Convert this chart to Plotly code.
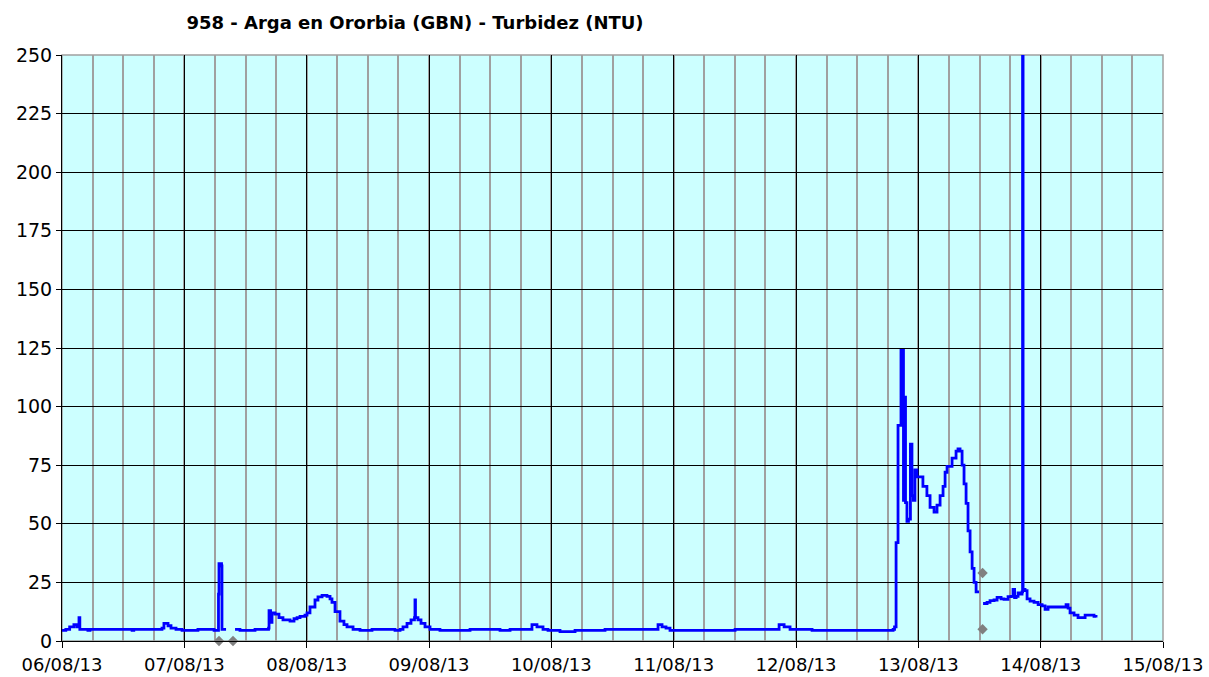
import plotly.graph_objects as go

# Turbidity series (NTU); None marks gaps in the record
times = [
    "2013-08-06 00:00", "2013-08-06 00:45", "2013-08-06 01:30", "2013-08-06 02:20", "2013-08-06 02:55",
    "2013-08-06 03:20", "2013-08-06 03:30", "2013-08-06 04:40", "2013-08-06 05:05", "2013-08-06 05:30",
    "2013-08-06 13:20", "2013-08-06 13:45", "2013-08-06 14:05", "2013-08-06 19:37", "2013-08-06 20:00",
    "2013-08-06 20:48", "2013-08-06 21:23", "2013-08-06 22:22", "2013-08-06 23:33", "2013-08-07 02:06",
    "2013-08-07 02:40", "2013-08-07 05:26", "2013-08-07 05:50", "2013-08-07 06:25", "2013-08-07 06:42",
    "2013-08-07 06:48", "2013-08-07 07:18", "2013-08-07 07:23", "2013-08-07 08:11", "2013-08-07 09:00",
    "2013-08-07 09:57", "2013-08-07 10:55", "2013-08-07 12:53", "2013-08-07 13:52", "2013-08-07 16:31",
    "2013-08-07 16:37", "2013-08-07 16:55", "2013-08-07 17:12", "2013-08-07 17:47", "2013-08-07 18:34",
    "2013-08-07 19:21", "2013-08-07 20:44", "2013-08-07 21:31", "2013-08-07 22:07", "2013-08-07 22:42",
    "2013-08-07 23:40", "2013-08-08 00:04", "2013-08-08 00:39", "2013-08-08 01:38", "2013-08-08 02:13",
    "2013-08-08 03:01", "2013-08-08 03:59", "2013-08-08 04:35", "2013-08-08 04:58", "2013-08-08 05:34",
    "2013-08-08 06:32", "2013-08-08 07:19", "2013-08-08 07:55", "2013-08-08 09:06", "2013-08-08 10:28",
    "2013-08-08 12:49", "2013-08-08 15:22", "2013-08-08 17:20", "2013-08-08 18:19", "2013-08-08 18:54",
    "2013-08-08 19:41", "2013-08-08 20:28", "2013-08-08 21:09", "2013-08-08 21:15", "2013-08-08 21:21",
    "2013-08-08 21:50", "2013-08-08 22:26", "2013-08-08 23:13", "2013-08-09 00:12", "2013-08-09 02:09",
    "2013-08-09 08:03", "2013-08-09 13:56", "2013-08-09 15:54", "2013-08-09 19:49", "2013-08-09 20:12",
    "2013-08-09 21:11", "2013-08-09 22:22", "2013-08-09 23:21", "2013-08-10 01:42", "2013-08-10 04:39",
    "2013-08-10 07:35", "2013-08-10 10:32", "2013-08-10 13:05", "2013-08-10 20:56", "2013-08-10 21:43",
    "2013-08-10 22:30", "2013-08-10 23:17", "2013-08-11 03:13", "2013-08-11 09:06", "2013-08-11 12:03",
    "2013-08-11 19:53", "2013-08-11 20:41", "2013-08-11 21:40", "2013-08-11 22:50", "2013-08-12 00:48",
    "2013-08-12 03:09", "2013-08-12 08:38", "2013-08-12 12:34", "2013-08-12 19:03", "2013-08-12 19:20",
    "2013-08-12 19:38", "2013-08-12 20:01", "2013-08-12 20:24", "2013-08-12 20:36", "2013-08-12 20:53",
    "2013-08-12 21:05", "2013-08-12 21:17", "2013-08-12 21:29", "2013-08-12 21:46", "2013-08-12 22:04",
    "2013-08-12 22:27", "2013-08-12 22:45", "2013-08-12 23:02", "2013-08-12 23:20", "2013-08-12 23:44",
    "2013-08-13 00:19", "2013-08-13 00:54", "2013-08-13 01:41", "2013-08-13 02:18", "2013-08-13 03:05",
    "2013-08-13 03:40", "2013-08-13 04:16", "2013-08-13 04:51", "2013-08-13 05:15", "2013-08-13 05:38",
    "2013-08-13 06:37", "2013-08-13 07:24", "2013-08-13 07:47", "2013-08-13 08:11", "2013-08-13 08:35",
    "2013-08-13 08:58", "2013-08-13 09:22", "2013-08-13 09:45", "2013-08-13 10:09", "2013-08-13 10:33",
    "2013-08-13 10:56", "2013-08-13 11:20", "2013-08-13 11:55", "2013-08-13 12:10", "2013-08-13 12:42",
    "2013-08-13 13:29", "2013-08-13 14:04", "2013-08-13 14:51", "2013-08-13 15:27", "2013-08-13 16:14",
    "2013-08-13 16:49", "2013-08-13 17:36", "2013-08-13 18:12", "2013-08-13 18:35", "2013-08-13 18:53",
    "2013-08-13 19:11", "2013-08-13 19:34", "2013-08-13 19:58", "2013-08-13 20:21", "2013-08-13 20:27",
    "2013-08-13 20:33", "2013-08-13 20:56", "2013-08-13 21:20", "2013-08-13 21:55", "2013-08-13 22:42",
    "2013-08-13 23:30", "2013-08-14 00:17", "2013-08-14 00:52", "2013-08-14 01:27", "2013-08-14 02:50",
    "2013-08-14 04:24", "2013-08-14 04:59", "2013-08-14 05:23", "2013-08-14 05:46", "2013-08-14 06:33",
    "2013-08-14 07:20", "2013-08-14 08:19", "2013-08-14 08:43", "2013-08-14 09:53", "2013-08-14 10:28",
    "2013-08-14 10:52",
]
turbidity = [
    4.5, 5, 6, 7, 6,
    10, 5, 5, 4.5, 5,
    5, 4.5, 5, 5.5, 7.5,
    6.5, 5.5, 5, 4.5, 4.5,
    5, 5, 4.5, 4.5, 20,
    33, 32, 5, 5, None,
    5, 4.5, 4.5, 5, 5.5,
    13, 8, 12, 11.5, 10,
    9, 8.5, 9.5, 10, 10.5,
    11, 12, 14.5, 17.5, 18.8,
    19.5, 19, 18, 16.5, 12.5,
    8.5, 7, 6, 5, 4.5,
    5, 5, 4.5, 5, 6,
    7.5, 9, 10, 17.5, 10,
    9, 7.5, 6, 5, 4.5,
    5, 4.5, 5, 5, 7,
    6, 5, 4.5, 4, 4.5,
    4.5, 5, 5, 7, 6,
    5.5, 4.5, 4.5, 4.5, 5,
    5, 7, 6, 5, 5,
    4.5, 4.5, 4.5, 5, 6,
    42, 92, 92, 124, 124,
    60, 104, 59, 51, 52,
    84, 62, 60, 73, 70,
    70, 66, 62, 57, 55,
    58, 62, 66, 72, 74.5,
    78, 81, 82, 81, 75,
    67, 58.7, 47, 38, 31,
    25, 21, 21, None, 16,
    16.5, 17.2, 17.5, 18.6, 18,
    17.8, 18.9, 19, 22, 18.5,
    19, 20.5, 20, 21, 260,
    22, 21.5, 18, 17, 16.5,
    15.5, 15, 13.5, 14.5, 14.5,
    14.5, 15.5, 14, 12, 11,
    10, 10, 11, 11, 10.5,
    10,
]

# Gray flag markers
flag_times = ["2013-08-07 06:48", "2013-08-07 09:33", "2013-08-13 12:36", "2013-08-13 12:36"]
flag_values = [0, 0, 29, 5]

y_ticks = [0, 25, 50, 75, 100, 125, 150, 175, 200, 225, 250]
x_ticks = ["2013-08-%02d" % d for d in range(6, 16)]
x_labels = ["%02d/08/13" % d for d in range(6, 16)]

title_text = "958 - Arga en Ororbia (GBN) - Turbidez (NTU)"

FONT = "DejaVu Sans"

fig = go.Figure()
fig.add_trace(go.Scatter(
    x=times, y=turbidity, mode="lines",
    line=dict(color="#0000FF", width=2.8, shape="hv"),
    connectgaps=False, showlegend=False,
))
fig.add_trace(go.Scatter(
    x=flag_times, y=flag_values, mode="markers",
    marker=dict(symbol="diamond", size=8, color="#808080"),
    cliponaxis=False, showlegend=False,
))

fig.update_layout(
    width=1209, height=677,
    margin=dict(l=62, r=46, t=55, b=36, autoexpand=False),
    paper_bgcolor="white",
    plot_bgcolor="#CCFFFF",
    title=dict(
        text="<b>" + title_text + "</b>", xref="paper", x=0.3206, xanchor="center",
        yref="container", y=0.967, yanchor="middle",
        font=dict(family=FONT, size=18, color="black"),
        automargin=False,
    ),
    font=dict(family=FONT, size=19, color="black"),
)

fig.update_xaxes(
    type="date",
    range=["2013-08-06", "2013-08-15"],
    tickvals=x_ticks, ticktext=x_labels,
    ticks="outside", ticklen=6, tickcolor="black", tickwidth=1,
    showline=True, linecolor="black", linewidth=1,
    showgrid=True, gridcolor="black", gridwidth=1,
    minor=dict(dtick=6 * 3600 * 1000, showgrid=True, gridcolor="#A0A0A0", gridwidth=1.5, ticks=""),
    tickfont=dict(family=FONT, size=18),
    zeroline=False,
    automargin=False,
    ticklabelstandoff=1,
)
fig.update_yaxes(
    range=[0, 250],
    tickvals=y_ticks,
    ticks="outside", ticklen=5, tickcolor="black", tickwidth=1,
    showline=True, linecolor="black", linewidth=1,
    showgrid=True, gridcolor="black", gridwidth=1,
    tickfont=dict(family=FONT, size=19),
    zeroline=False,
    automargin=False,
)

# gray frame on top / right
fig.add_shape(type="rect", xref="paper", yref="paper", x0=0, x1=1, y0=0, y1=1,
              line=dict(color="#A0A0A0", width=1.5), layer="between")

fig.write_html(
    "out.html",
    config={"displayModeBar": False},
    post_script="document.body.style.margin='0px';document.body.style.overflow='hidden';",
)
